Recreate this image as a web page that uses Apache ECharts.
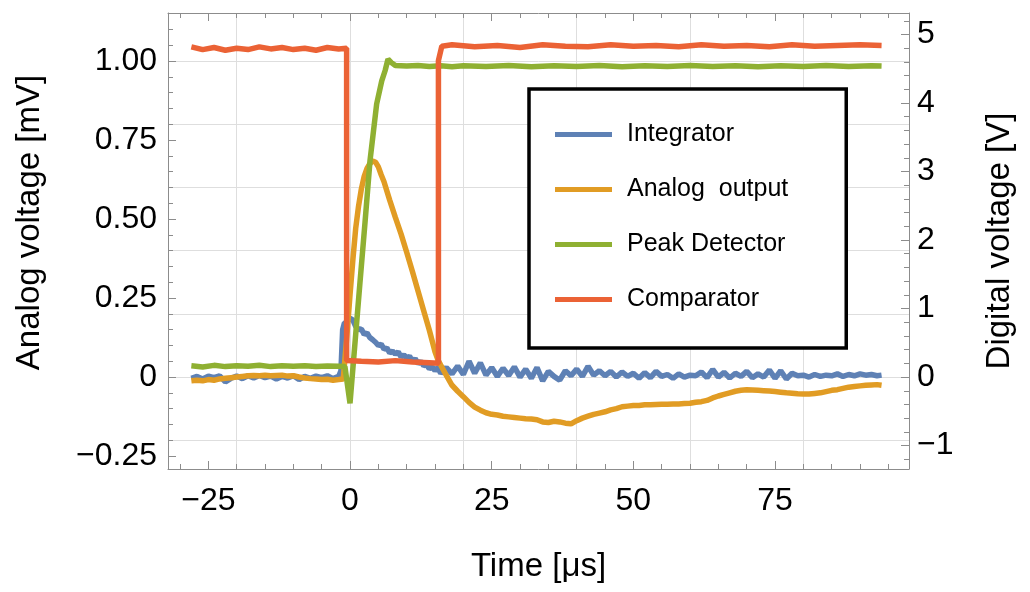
<!DOCTYPE html>
<html>
<head>
<meta charset="utf-8">
<script src="https://cdn.jsdelivr.net/npm/echarts@6/dist/echarts.min.js"></script>
<style>
html,body{margin:0;padding:0;background:#fff;}
#chart{width:1030px;height:592px;}
</style>
</head>
<body>
<div id="chart"></div>
<script>
// ---------------- DATA ----------------
const seriesNames = ['Integrator', 'Analog  output', 'Peak Detector', 'Comparator'];
const seriesColors = ['#5E81B5', '#E19C24', '#8FB032', '#EB6235'];

// Integrator (analog, mV)
const integratorT = [-28,-27,-26,-25,-24,-23,-22,-21,-20,-19,-18,-17,-16,-15,-14,-13,-12,-11,-10,-9,-8,-7,-6,-5,-4,-3,-2,
  -1.6,-1.3,-1,-0.5,0,0.5,1,1.5,2,2.5,3,3.5,4,4.5,5,5.5,6,6.5,7,7.5,8,8.5,9,9.5,10,10.5,11,11.5,12,12.5,13,13.5,14,14.5,15,15.5,
  16,17,18,19,20,21,22,23,24,25,26,27,28,29,30,31,32,33,34,35,36,37,38,39,40,41,42,43,44,45,46,47,48,49,50,
  51,52,53,54,55,56,57,58,59,60,61,62,63,64,65,66,67,68,69,70,71,72,73,74,75,76,77,78,79,80,81,82,83,84,85,86,87,88,89,90,91,92,93,93.8];
const integratorV = [-0.004,0.002,-0.006,0.003,-0.002,0.004,-0.015,-0.004,0.003,-0.005,0.004,-0.003,0.005,-0.002,0.003,-0.006,0.002,-0.003,0.004,-0.008,0.002,-0.004,0.003,-0.002,0.004,-0.005,0.002,
  0.02,0.15,0.17,0.175,0.186,0.18,0.16,0.15,0.152,0.135,0.14,0.125,0.118,0.11,0.1,0.104,0.088,0.092,0.076,0.082,0.072,0.08,0.064,0.07,0.06,0.066,0.05,0.058,0.042,0.05,0.036,0.04,0.026,0.032,0.02,0.03,
  0.012,0.03,0.01,0.035,0.008,0.05,0.012,0.045,0.006,0.03,0.002,0.028,0.005,0.032,0.0,0.025,-0.004,0.03,-0.012,0.018,0.002,-0.01,0.02,0.004,0.025,0.002,0.034,0.006,0.02,0.004,0.018,0.0,0.016,0.002,0.012,
  -0.004,0.014,-0.002,0.018,0.002,0.008,-0.004,0.01,0.0,0.006,0.004,0.016,-0.002,0.024,0.0,0.015,-0.003,0.012,0.002,0.018,-0.002,0.01,0.0,0.022,-0.004,0.02,-0.006,0.012,0.004,0.006,0.0,0.008,0.002,0.006,0.004,0.01,0.002,0.008,0.004,0.01,0.006,0.008,0.004,0.006];

// Analog output (analog, mV)
const analogT = [-28,-27,-26,-25,-24,-23,-22,-21,-20,-19,-18,-17,-16,-15,-14,-13,-12,-11,-10,-9,-8,-7,-6,-5,-4,-3,-2,-1.2,
  -0.6,0,0.5,1,1.5,2,2.5,3,3.5,4,4.5,5,5.5,6,7,8,9,10,11,12,13,14,15,15.5,16,17,18,19,20,21,22,23,24,25,26,27,28,29,30,
  31,32,33,34,35,36,37,38,39,40,41,42,43,44,45,46,47,48,49,50,51,52,53,54,55,56,57,58,59,60,61,62,63,64,65,66,67,68,69,70,
  71,72,73,74,75,76,77,78,79,80,81,82,83,84,85,86,87,88,89,90,91,92,93,93.8];
const analogV = [-0.012,-0.01,-0.012,-0.008,-0.01,-0.006,-0.004,-0.002,0.0,0.002,0.004,0.005,0.004,0.006,0.004,0.005,0.006,0.003,0.004,0.0,-0.003,-0.005,-0.006,-0.008,-0.007,-0.01,-0.008,-0.006,
  0.12,0.26,0.37,0.47,0.54,0.595,0.635,0.66,0.675,0.684,0.68,0.665,0.64,0.618,0.56,0.505,0.453,0.395,0.335,0.272,0.21,0.148,0.08,0.055,0.038,0.005,-0.026,-0.045,-0.062,-0.08,-0.095,-0.105,-0.113,-0.118,-0.12,-0.124,-0.126,-0.128,-0.13,
  -0.132,-0.133,-0.135,-0.142,-0.144,-0.14,-0.142,-0.146,-0.148,-0.138,-0.13,-0.124,-0.118,-0.114,-0.11,-0.104,-0.1,-0.094,-0.092,-0.09,-0.09,-0.088,-0.088,-0.087,-0.086,-0.086,-0.085,-0.085,-0.084,-0.083,-0.08,-0.078,-0.074,-0.066,-0.06,-0.055,-0.05,-0.045,-0.042,-0.04,
  -0.041,-0.042,-0.043,-0.044,-0.046,-0.048,-0.05,-0.051,-0.053,-0.054,-0.054,-0.052,-0.05,-0.046,-0.042,-0.04,-0.036,-0.032,-0.03,-0.028,-0.026,-0.025,-0.024,-0.026];

// Peak detector (analog, mV)
const peakT = [-28,-26,-24,-22,-20,-18,-16,-14,-12,-10,-8,-6,-4,-2,-0.9,0,1.76,2.65,3.53,4.7,5.6,6.2,6.7,7.3,8,10,12,14,16,18,20,
  24,28,32,36,40,44,48,52,56,60,64,68,72,76,80,84,88,92,93.8];
const peakV = [0.036,0.032,0.037,0.033,0.036,0.034,0.037,0.033,0.036,0.034,0.036,0.033,0.035,0.034,0.033,-0.083,0.30,0.49,0.685,0.864,0.937,0.97,1.006,0.995,0.986,0.984,0.986,0.983,0.985,0.982,0.985,
  0.983,0.986,0.982,0.985,0.983,0.986,0.982,0.985,0.983,0.986,0.983,0.985,0.982,0.985,0.983,0.986,0.983,0.985,0.984];

// Comparator (digital, V)
const comparatorT = [-28,-26,-24,-22,-20,-18,-16,-14,-12,-10,-8,-6,-4,-2,-0.6,-0.6,2,5,8,11,14,15.6,15.6,16.2,18,22,26,30,34,38,42,46,50,54,58,62,66,70,74,78,82,86,90,93.8];
const comparatorV = [4.82,4.78,4.81,4.77,4.8,4.78,4.82,4.79,4.81,4.78,4.8,4.77,4.81,4.79,4.8,0.24,0.23,0.22,0.24,0.22,0.21,0.2,4.62,4.83,4.85,4.82,4.84,4.81,4.85,4.83,4.82,4.85,4.83,4.84,4.82,4.85,4.83,4.84,4.82,4.85,4.83,4.84,4.85,4.84];

// Tick values
const xLabelTicks = [-25, 0, 25, 50, 75];
const xMinorTicks = [-30,-25,-20,-15,-10,-5,0,5,10,15,20,25,30,35,40,45,50,55,60,65,70,75,80,85,90,95];
const xGridValues = [-20, 0, 20, 40, 60, 80];
const yLeftLabelTicks = [-0.25, 0, 0.25, 0.5, 0.75, 1.0];
const yLeftMinorTicks = [-0.25,-0.2,-0.15,-0.1,-0.05,0,0.05,0.1,0.15,0.2,0.25,0.3,0.35,0.4,0.45,0.5,0.55,0.6,0.65,0.7,0.75,0.8,0.85,0.9,0.95,1.0,1.05,1.1,1.15];
const yGridValues = [-0.2, 0, 0.2, 0.4, 0.6, 0.8, 1.0];
const yRightLabelTicks = [-1, 0, 1, 2, 3, 4, 5];
const yRightMinorTicks = [-1.2,-1,-0.8,-0.6,-0.4,-0.2,0,0.2,0.4,0.6,0.8,1,1.2,1.4,1.6,1.8,2,2.2,2.4,2.6,2.8,3,3.2,3.4,3.6,3.8,4,4.2,4.4,4.6,4.8,5,5.2];

// ---------------- CHART ----------------
const FONT = '"Liberation Sans", Arial, sans-serif';
const FRAME = '#8c8c8c';
const X_MIN = -32.12, X_MAX = 98.64;
const YL_MIN = -0.291, YL_MAX = 1.152;
const YR_MIN = -1.342, YR_MAX = 5.314;

function zip(t, v) { return t.map((x, i) => [x, v[i]]); }
function minus(s) { return String(s).replace('-', '\u2212'); }

const noLine = { show: false, onZero: false };
const lineFrame = { show: true, onZero: false, lineStyle: { color: FRAME, width: 1 } };
function ticks(vals, len) {
  return { show: true, inside: true, length: len, customValues: vals, lineStyle: { color: FRAME, width: 1 } };
}

function xAx(opts) {
  return Object.assign({
    type: 'value', min: X_MIN, max: X_MAX, position: 'bottom',
    axisLine: noLine, axisTick: { show: false }, axisLabel: { show: false },
    splitLine: { show: false }
  }, opts);
}
function yAx(opts) {
  return Object.assign({
    type: 'value', min: YL_MIN, max: YL_MAX, position: 'left',
    axisLine: noLine, axisTick: { show: false }, axisLabel: { show: false },
    splitLine: { show: false }
  }, opts);
}

const xAxes = [
  xAx({
    axisLine: lineFrame,
    axisTick: ticks(xMinorTicks, 5),
    axisLabel: { show: true, customValues: xLabelTicks, margin: 16, fontSize: 32, color: '#000', fontFamily: FONT,
      formatter: v => minus(v) },
    name: 'Time [\u03bcs]', nameLocation: 'middle', nameGap: 81, nameMoveOverlap: false,
    nameTextStyle: { fontSize: 33, color: '#000', fontFamily: FONT }
  }),
  xAx({ axisTick: ticks(xLabelTicks, 8) }),
  xAx({ position: 'top', axisLine: lineFrame, axisTick: ticks(xMinorTicks, 5) }),
  xAx({ position: 'top', axisTick: ticks(xLabelTicks, 8) }),
  xAx({ axisTick: { show: false, customValues: xGridValues },
    splitLine: { show: true, lineStyle: { color: '#dedede', width: 1 } } })
];

const yAxes = [
  yAx({
    axisLine: lineFrame,
    axisTick: ticks(yLeftMinorTicks, 5),
    axisLabel: { show: true, customValues: yLeftLabelTicks, margin: 11, fontSize: 32, color: '#000', fontFamily: FONT,
      formatter: v => v === 0 ? '0' : minus(v.toFixed(2)) },
    name: 'Analog voltage [mV]', nameLocation: 'middle', nameGap: 122, nameRotate: 90, nameMoveOverlap: false,
    nameTextStyle: { fontSize: 33, color: '#000', fontFamily: FONT, padding: [0, 0, 0, 37] }
  }),
  yAx({ axisTick: ticks(yLeftLabelTicks, 8) }),
  yAx({
    position: 'right', min: YR_MIN, max: YR_MAX,
    axisLine: lineFrame,
    axisTick: ticks(yRightMinorTicks, 5),
    axisLabel: { show: true, customValues: yRightLabelTicks, margin: 8, fontSize: 32, color: '#000', fontFamily: FONT,
      formatter: v => minus(v) },
    name: 'Digital voltage [V]', nameLocation: 'middle', nameGap: 74, nameRotate: 90, nameMoveOverlap: false,
    nameTextStyle: { fontSize: 33, color: '#000', fontFamily: FONT }
  }),
  yAx({ position: 'right', min: YR_MIN, max: YR_MAX, axisTick: ticks(yRightLabelTicks, 8) }),
  yAx({ axisTick: { show: false, customValues: yGridValues },
    splitLine: { show: true, lineStyle: { color: '#dedede', width: 1 } } })
];

function lineSeries(i, data, yIdx) {
  return {
    name: seriesNames[i], type: 'line', xAxisIndex: 0, yAxisIndex: yIdx,
    data: data, showSymbol: false, symbol: 'none', smooth: false,
    lineStyle: { color: seriesColors[i], width: 5.5, join: 'bevel' }, itemStyle: { color: seriesColors[i] },
    emphasis: { disabled: true }, z: 3 + i
  };
}

const chart = echarts.init(document.getElementById('chart'), null, { renderer: 'canvas' });
chart.setOption({
  animation: false,
  backgroundColor: '#ffffff',
  grid: { left: 168, top: 13, width: 741, height: 456, containLabel: false, outerBoundsMode: 'none' },
  xAxis: xAxes,
  yAxis: yAxes,
  legend: {
    orient: 'vertical', left: 529, top: 89,
    padding: [33, 58, 36, 26], itemGap: 30, itemWidth: 57, itemHeight: 5,
    icon: 'rect', selectedMode: false,
    borderColor: '#000', borderWidth: 3.5, backgroundColor: '#fff',
    textStyle: { fontSize: 25, color: '#000', fontFamily: FONT, padding: [0, 0, 0, 10] },
    data: seriesNames
  },
  series: [
    lineSeries(0, zip(integratorT, integratorV), 0),
    lineSeries(1, zip(analogT, analogV), 0),
    lineSeries(2, zip(peakT, peakV), 0),
    lineSeries(3, zip(comparatorT, comparatorV), 2)
  ]
});
</script>
</body>
</html>
